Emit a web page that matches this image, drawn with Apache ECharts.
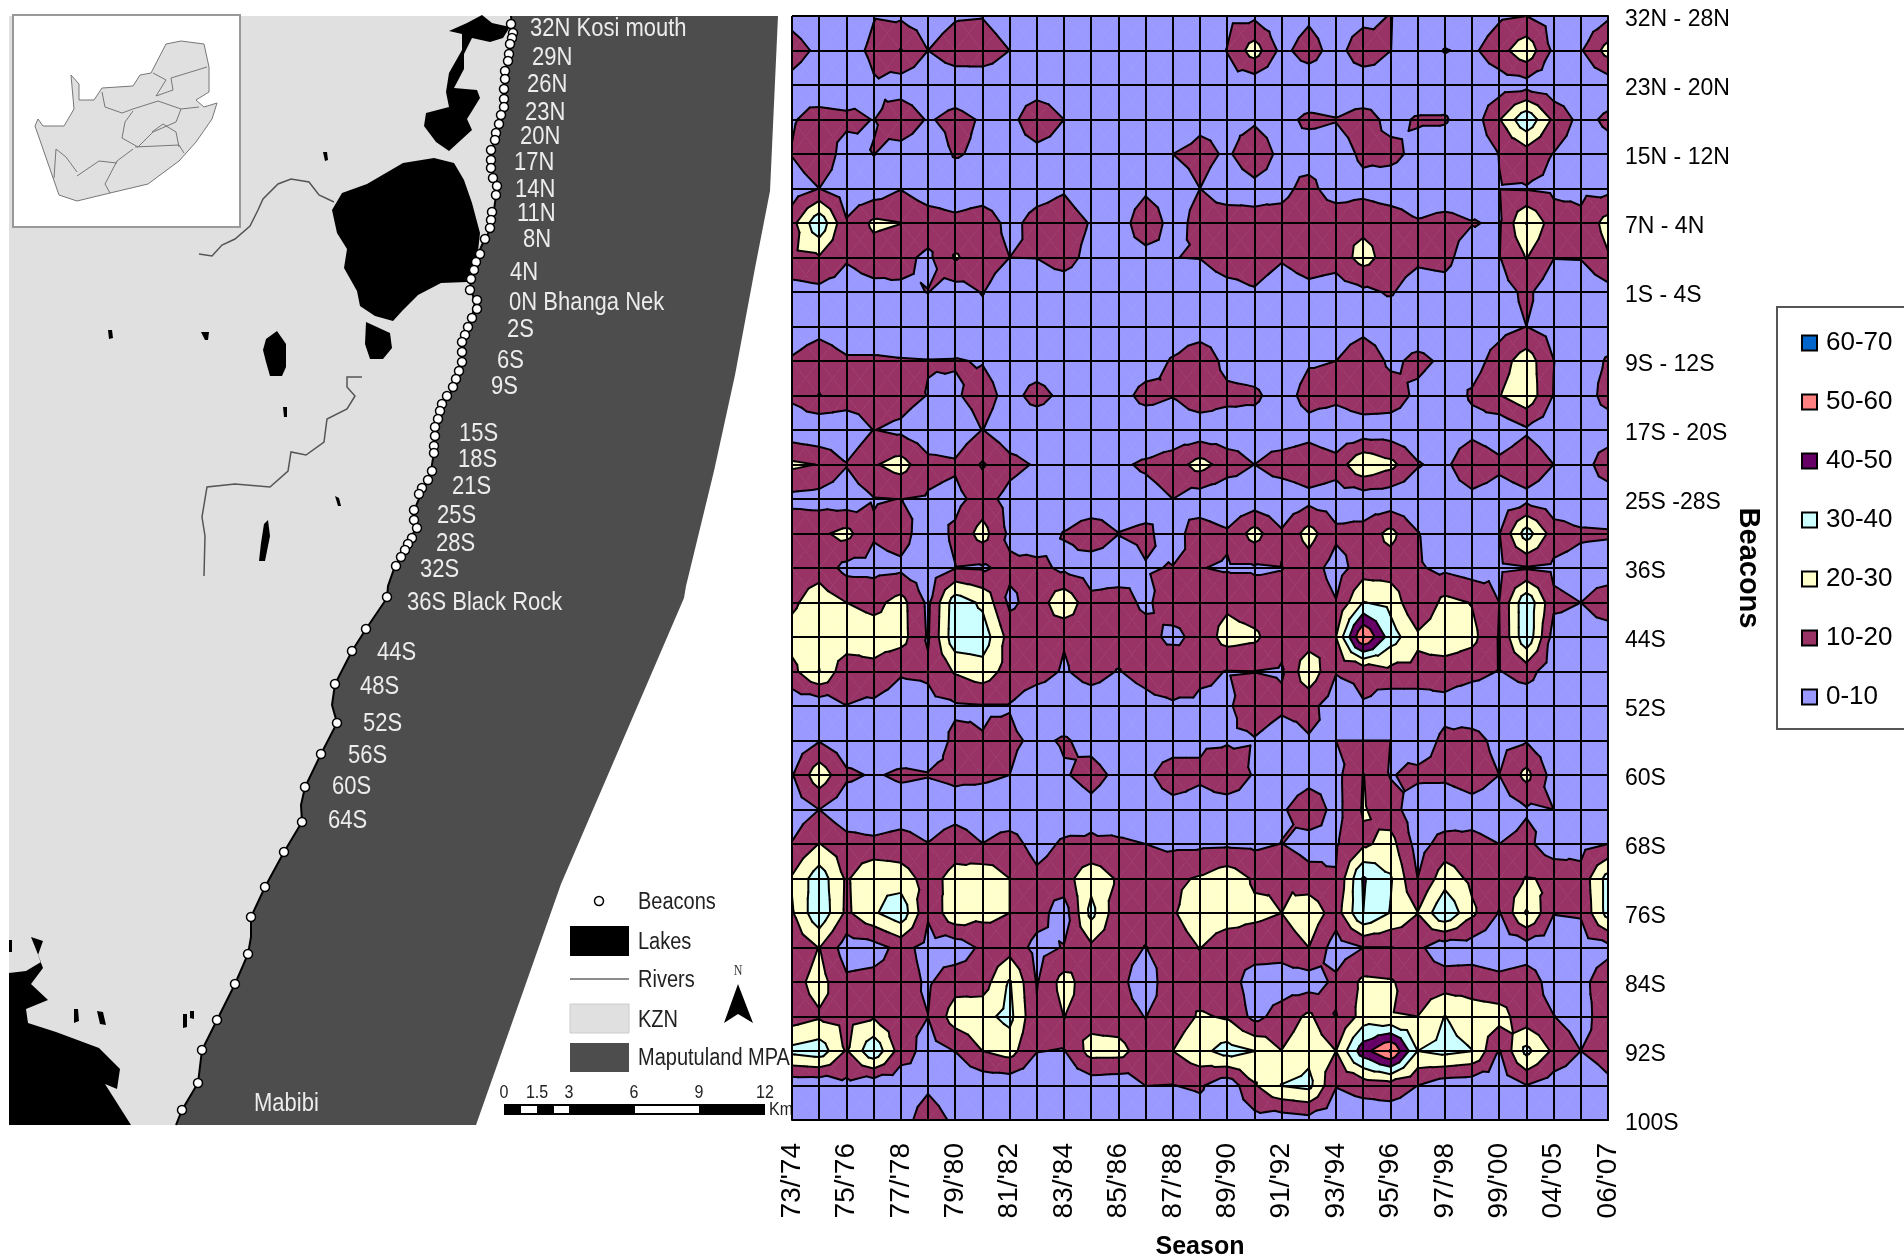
<!DOCTYPE html>
<html>
<head>
<meta charset="utf-8">
<style>html,body{margin:0;padding:0;background:#fff}#chart{width:1904px;height:1259px}</style>
<script src="https://cdn.jsdelivr.net/npm/echarts@6/dist/echarts.min.js"></script>
</head>
<body>
<div id="chart"></div>
<script>
// ---------- contour chart data ----------
const seasons = ["73/'74","74/'75","75/'76","76/'77","77/'78","78/'79","79/'80","80/'81","81/'82","82/'83","83/'84","84/'85","85/'86","86/'87","87/'88","88/'89","89/'90","90/'91","91/'92","92/'93","93/'94","94/'95","95/'96","96/'97","97/'98","98/'99","99/'00","00/'03","04/'05","05/'06","06/'07"];
const beaconTicks = ['32N - 28N','23N - 20N','15N - 12N','7N - 4N','1S - 4S','9S - 12S','17S - 20S','25S -28S','36S','44S','52S','60S','68S','76S','84S','92S','100S'];
const r00=[7,3,3,9.5,8.5,5,9,9.5,3,2,2,2,2,2,2,2,8,8,3,8,3,6,10.5,3,2,3,8.5,10,6,2,8];
const r01=[14,8,6,12,20.5,10,15,17,10,3,3,3,3,3,3,3,10.3,25,7,15,5,18,10.2,3,10.5,8,16,27,8,9,24];
const r02=[7,3,2,9,5,3,4,2,2,2,2,2,2,2,2,2,6,3,2,2,2,1,4,2,4,3,5,6,3,2,4];
const r03=[9,14,12.7,9.7,17,9,13,9,5,20.3,10,3,3,3,4,8,8,9,7,12,10.5,14.4,7,11,11,4,19.3,38,18,6.6,12];
const r04=[10.5,18,5,10.2,5.7,3,11,8,3,5,4,3,3,3,10,12.3,9,14.5,8,5,5,12,13,7,4,3,10.2,15,9.7,4,6];
const r05=[4,10,4,4,9.5,4,3,4,3,6,9,3,3,8,6,10,6,8,7.2,13.3,4,7,4,3,3,3,9.7,9.5,8,8,7];
const r06=[16.5,38,11,22,20.2,16,13,16,7,13.5,15,9.3,4.5,17,6,13.4,14.4,11.8,13.7,17,18,17,16,11,13.4,10.5,9,30.3,14.7,12,24];
const r07=[18,19,11,15,13,7.8,21,15,10,10.2,14,6.6,6,6.2,9.9,10.3,15,15,11,15,14,24,15,12,13,4,9.6,20.5,10.3,10.5,19];
const r08=[5.5,7.3,5.4,6.7,8.3,10.2,5.3,10.5,3,4,4,3,3,3,3,4,6.4,9.1,4.75,7,5,8,11,5,6,3,5.9,12,4,3,6.5];
const r09=[3,6,3,3,3,3,3,6,3,3,3,3,3,3,3,3,3,3,3,3,3,6,3,3,3,3,6,10,6,3,3];
const r10=[11.3,17,11.5,11.5,10.7,10.3,10.5,9.5,5,5,4,3,3,5,11,18.6,6,4,3,9,10,19,7.5,12.7,8,5,15,25.6,10.2,4,11.2];
const r11=[12,20.3,16,15,14,9.7,8.8,14,6.7,13.3,7.5,3,6,13.3,10.5,17,13,12,5,14,13,18,16,7.4,3,11.5,19.5,27,9.7,3,14.7];
const r12=[3.3,1,2,10.2,8,3,3,10.2,4,3,3,3,3,2,3,3,3.6,5,3,6,2,3.5,4,3,3,6,2,8.5,3,3,3];
const r13=[22,19.6,10.5,19,24,13,11.5,21,13,9,4,3,8.3,11.5,15,24,15.3,10,15,17,14,29,23,10.8,7,20.2,13,18,10,4,17];
const r14=[7,6,4,9.5,10.1,9,7,14,6.7,3,3,3,5,6,10,4,1.3,3,2.5,6.7,5,3.7,3,3,3,6,3,6.6,3,3,3];
const r15=[17.7,18,23,11,14,4,12,24,8,4,10.5,15.5,10.2,11.7,6,15,11.5,24,11.3,24,12,13.4,23,10.5,3,3,9.7,35,15,11.5,11];
const r16=[15,16,7,7,8,4,9.7,9,12,12.7,8,5,5,9.5,10.3,10.3,9,9,9.7,15,5.7,15,15,11,8,5,8,9.5,8,6,5];
const r17=[18,25.5,20,17,23.7,8,36,28,8,14,28,12.6,14,8,16,15,18,14,13,17,10.5,30.4,27,10.5,23,19.5,10,38,12,10,15];
const r18=[24,28,27,25,24,9,37,36,16,16,10.7,14,15,14,7,13.7,24,22,13,15,20,61,35,22,27,23,9.5,38,6,6,5.6];
const r19=[17,30.2,13,17,11,11.5,21,25.5,16,14,9,14,9.5,14,20.3,12,9.7,9.9,9,27,10.5,12,17,17,14.5,13,9.6,14,4,3,3];
const r20=[3,3,9.8,8,5,7.3,8.8,9.5,9.5,3.5,3,4,3,6,8,8,8.5,16,12,13,4.7,9.5,3,3,7,3,3,3,3,3,3];
const r21=[3,9.5,3,3,3,5,11.7,10.2,12,8,11,7,3,3,3,8,8.5,9.3,4.6,9.3,10,10,10,5,12,13.6,7,9.3,3,3,3];
const r22=[9.5,26.4,12,9,11.6,10.5,12,12,10,4,9,13.5,7.7,7,17,12,20.3,8.6,3,6,7,20.3,9.5,12,12,15,10,23,5.7,3,3];
const r23=[4,10,3,3,4.6,4,6,4,3,3,3,7,3,3,5,5,2,3,8.5,16.5,6.6,21,14,4,3,6,4,9,10,3,3];
const r24=[10.5,20.3,14,12.2,14,10.3,15.3,10.2,14.3,6,11.6,11.5,11.7,10,8,8,8.5,8,10.2,5.7,9,18,24,6,14,12.7,10,13,3,7,10];
const r25=[21,36,18.5,29.5,25,16,23.5,27,20,12.5,16,26.7,18.7,14,18,21,26.5,18.6,19.5,14,10.5,41,31,10,25.7,17.6,14,20.5,19,13,34];
const r26=[19,38,18,28.5,37,11,28,23,20,14,5,33,13,14,19,26,25,22,20,27,15,40,29.5,20.3,39,22,9.5,31,10.3,11,34];
const r27=[12,20.3,5,6,13,7,4,12,16,7,10.5,18,14,9.7,15,20.3,14,15,14,20,5,9.9,9.8,12,4,5,3,5,4,5,7];
const r28=[16,24,12,13,14,8.7,16,15,31,9.5,24,14,13.8,3,19,15,15,5,5,5,12,22,21,15,15,15,13,15,6,7,16];
const r29=[15,18.8,17,19,12,10.1,25,27,33,11,20.2,16,14,9.7,15,21,19,7,14,22,9.5,24,20.3,20,30.2,25,24,14,10.2,5,17];
const r30=[33,36,19,38,15,6,10.2,20,24,10.3,9.5,24,24,14,20,27,34,30.1,20.2,27,20,46,61,30,33,30.2,9.5,33,18,10,14];
const r31=[2.3,2,7.3,2.5,3,8,2,3,3,3,3,4,3,10.1,9.8,11.5,3,19,30.3,33,10.5,13.5,15,10,4,3,4,9.8,4.7,3,8];
const r32=[3,3,3,3,4.8,16.3,7.5,3,3,3,3,3,3,3,2,5,3,6.5,4.3,6.3,3,4,4,3,3,3,3,3,3,3,3];
const values=[r00,r01,r02,r03,r04,r05,r06,r07,r08,r09,r10,r11,r12,r13,r14,r15,r16,r17,r18,r19,r20,r21,r22,r23,r24,r25,r26,r27,r28,r29,r30,r31,r32];
const bandNames=['0-10','10-20','20-30','30-40','40-50','50-60','60-70'];
const bandColors=['#9999ff','#993366','#ffffcc','#ccffff','#660066','#ff8080','#0066cc'];

// ---------- map data (map units) ----------
const coast=[[511,16],[512,27],[510,50],[505,73],[504,96],[503,115],[496,134],[491,153],[491,168],[497,188],[494,210],[490,230],[482,245],[474,264],[470,287],[475,302],[472,318],[465,337],[462,360],[457,383],[444,402],[436,425],[434,452],[431,471],[421,494],[413,513],[416,528],[406,547],[395,566],[388,586],[387,598],[366,629],[352,651],[335,684],[332,705],[337,723],[321,754],[305,787],[301,805],[302,822],[284,852],[265,887],[251,917],[251,937],[248,954],[235,984],[217,1020],[202,1050],[198,1083],[182,1110],[176,1125]];
const mpaEdge=[[778,16],[770,191],[755,268],[735,375],[714,471],[686,586],[684,598],[561,884],[476,1125]];
const inlandEdge=[[9,1125],[9,16]];
const lakes=[
 [[482,15],[492,23],[510,27],[503,38],[490,42],[472,38],[464,54],[464,69],[454,88],[477,90],[480,98],[472,111],[467,119],[472,130],[449,151],[436,142],[424,126],[426,113],[449,107],[446,92],[449,73],[462,50],[462,34],[449,31],[467,23]],
 [[434,158],[454,163],[464,180],[472,203],[480,233],[477,260],[467,282],[441,283],[418,295],[403,310],[393,321],[375,316],[360,306],[357,291],[344,268],[347,249],[337,233],[332,210],[342,193],[367,184],[403,163]],
 [[366,322],[390,333],[392,348],[383,359],[370,359],[365,344]],
 [[277,331],[286,344],[286,367],[282,376],[270,376],[266,362],[263,350],[266,339]],
 [[268,520],[270,536],[265,561],[259,561],[261,543],[264,524]],
 [[9,973],[26,971],[41,962],[31,937],[43,941],[38,955],[43,968],[31,984],[48,1000],[26,1009],[28,1023],[56,1032],[99,1048],[120,1069],[117,1089],[105,1084],[131,1125],[9,1125]],
 [[108,330],[112,330],[113,338],[109,339]],[[201,332],[209,332],[208,340],[205,340]],[[323,152],[327,152],[328,160],[325,161]],
 [[283,407],[287,407],[287,417],[284,417]],[[335,496],[339,498],[341,506],[338,506]],
 [[74,1009],[78,1009],[79,1021],[74,1023]],[[97,1011],[103,1012],[106,1025],[100,1024]],[[183,1014],[187,1014],[187,1027],[183,1028]],[[190,1011],[194,1011],[194,1019],[190,1018]],[[9,940],[12,940],[12,952],[9,952]]
];
const rivers=[
 [[334,202],[319,195],[309,182],[291,179],[278,184],[263,199],[258,210],[250,226],[235,239],[222,245],[212,256],[199,254]],
 [[362,377],[347,377],[347,387],[355,396],[347,409],[327,419],[324,442],[306,455],[291,452],[288,471],[270,487],[235,484],[207,487],[202,517],[205,536],[204,576]]
];
const insetBox=[[13,15],[240,15],[240,227],[13,227]];
const saOutline=[[71,75],[79,84],[79,100],[94,100],[102,88],[133,86],[140,75],[151,73],[166,44],[181,41],[204,44],[209,67],[209,92],[196,100],[204,107],[217,103],[212,119],[196,142],[179,161],[148,184],[110,193],[77,201],[59,195],[51,172],[43,149],[35,126],[38,119],[43,126],[64,126],[74,109]];
const saBorders=[
 [[102,92],[105,107],[122,113],[133,109],[158,101],[181,109],[176,122],[153,132],[138,147],[122,138],[125,122],[133,111]],
 [[181,109],[199,107]],[[153,73],[166,80],[156,96],[173,90],[171,78],[207,67]],
 [[133,149],[117,161],[105,184],[110,193]],[[135,147],[179,145],[184,153]],
 [[77,172],[66,157],[56,149],[54,178]],[[77,176],[99,161],[117,163]],[[152,132],[163,124],[176,132],[179,147]]
];
const beacons=[[511,24],[513,33],[512,38],[510,44],[509,54],[508,61],[505,71],[505,79],[504,89],[504,99],[504,107],[501,115],[499,124],[496,133],[495,140],[491,150],[491,160],[491,168],[493,178],[497,186],[496,195],[492,212],[491,220],[490,228],[485,239],[480,254],[476,262],[474,270],[471,279],[470,290],[477,300],[477,309],[472,318],[468,327],[465,335],[462,342],[462,352],[462,362],[459,371],[456,379],[453,387],[447,396],[442,404],[440,411],[438,419],[435,427],[435,436],[434,446],[434,453],[432,471],[428,480],[422,488],[419,494],[414,510],[414,520],[417,528],[412,538],[408,544],[405,550],[401,557],[396,566],[387,597],[366,629],[352,651],[335,684],[337,723],[321,754],[305,787],[302,822],[284,852],[265,887],[251,917],[248,954],[235,984],[217,1020],[202,1050],[198,1083],[182,1110]];
const mapLabels=[['32N Kosi mouth',530,27],['29N',532,56],['26N',527,83],['23N',525,111],['20N',520,135],['17N',514,161],['14N',515,188],['11N',517,212],['8N',523,238],['4N',510,271],['0N Bhanga Nek',509,301],['2S',507,328],['6S',497,359],['9S',491,385],['15S',459,432],['18S',458,458],['21S',452,485],['25S',437,514],['28S',436,542],['32S',420,568],['36S Black Rock',407,601],['44S',377,651],['48S',360,685],['52S',363,722],['56S',348,754],['60S',332,785],['64S',328,819],['Mabibi',254,1102]];
const keyLabels=[['Beacons',638,901],['Lakes',638,941],['Rivers',638,979],['KZN',638,1019],['Maputuland MPA',638,1057]];
const keyBeacon=[[599,901]];
const keyLakes=[[570,926],[629,926],[629,956],[570,956]];
const keyRiver=[[570,979],[629,979]];
const keyKzn=[[570,1004],[629,1004],[629,1033],[570,1033]];
const keyMpa=[[570,1043],[629,1043],[629,1072],[570,1072]];
const northArrow=[[738,984],[753,1023],[738,1014],[724,1023]];
const scaleBlack=[[504,1104],[765,1104],[765,1115],[504,1115]];
const scaleWhite=[[[521,1106],[537,1106],[537,1113],[521,1113]],[[554,1106],[569,1106],[569,1113],[554,1113]],[[635,1106],[699,1106],[699,1113],[635,1113]]];
const scaleLabels=[['0',504,1091],['1.5',537,1091],['3',569,1091],['6',634,1091],['9',699,1091],['12',765,1091]];

// ---------- contour geometry ----------
const levels=[10,20,30,40,50,60];
const cells=[];
for(let r=0;r<values.length-1;r++)for(let c=0;c<seasons.length-1;c++)cells.push([c,r]);
function clipAbove(poly,level,keepAbove){
  const out=[];
  for(let i=0;i<poly.length;i++){
    const a=poly[i],b=poly[(i+1)%poly.length];
    const ina=keepAbove?a.v>=level:a.v<=level, inb=keepAbove?b.v>=level:b.v<=level;
    if(ina)out.push(a);
    if(ina!==inb){const t=(level-a.v)/(b.v-a.v);out.push({x:a.x+(b.x-a.x)*t,y:a.y+(b.y-a.y)*t,v:level});}
  }
  return out;
}
function cellTriangles(api){
  const c=api.value(0),r=api.value(1);
  const mk=(cc,rr)=>{const p=api.coord([cc,rr]);return {x:p[0],y:p[1],v:values[rr][cc]};};
  const a=mk(c,r),b=mk(c+1,r),d=mk(c+1,r+1),e=mk(c,r+1);
  const m={x:(a.x+d.x)/2,y:(a.y+d.y)/2,v:(a.v+b.v+d.v+e.v)/4};
  return [[a,b,m],[b,d,m],[d,e,m],[e,a,m]];
}
function bandRender(k){
  const lo=k*10,hi=(k+1)*10,col=bandColors[k];
  return function(params,api){
    const children=[];
    cellTriangles(api).forEach(t=>{
      let p=clipAbove(t,lo,true);
      if(p.length)p=clipAbove(p,hi,false);
      if(p.length>2)children.push({type:'polygon',shape:{points:p.map(q=>[q.x,q.y])},style:{fill:col,stroke:col,lineWidth:0.6}});
    });
    return children.length?{type:'group',children}:null;
  };
}
function lineRender(params,api){
  const children=[];
  cellTriangles(api).forEach(t=>{
    levels.forEach(L=>{
      const pts=[];
      for(let i=0;i<3;i++){
        const a=t[i],b=t[(i+1)%3];
        if((a.v<L)!==(b.v<L)){const f=(L-a.v)/(b.v-a.v);pts.push([a.x+(b.x-a.x)*f,a.y+(b.y-a.y)*f]);}
      }
      if(pts.length===2)children.push({type:'line',shape:{x1:pts[0][0],y1:pts[0][1],x2:pts[1][0],y2:pts[1][1]},style:{stroke:'#000',lineWidth:2,lineCap:'round'}});
    });
  });
  return children.length?{type:'group',children}:null;
}

// ---------- map series helpers ----------
function shapes(name,rings,kind,style,z){
  return {name,type:'custom',coordinateSystem:'cartesian2d',xAxisIndex:1,yAxisIndex:1,z:z||1,silent:true,clip:false,
    data:rings.map((r,i)=>[i,0]),
    renderItem:(p,api)=>({type:kind,shape:{points:rings[api.value(0)].map(q=>api.coord(q))},style})};
}
function texts(name,list,font,fill,sy,align){
  return {name,type:'custom',coordinateSystem:'cartesian2d',xAxisIndex:1,yAxisIndex:1,z:1,silent:true,clip:false,
    data:list.map((r,i)=>[i,0]),
    renderItem:(p,api)=>{const t=list[api.value(0)],q=api.coord([t[1],t[2]]);
      return {type:'text',x:q[0],y:q[1]+2,scaleY:sy,style:{text:t[0],x:0,y:0,font,fill,textAlign:align,textVerticalAlign:'middle'}};}};
}
const F='"Liberation Sans", Arial, sans-serif';
const series=[
  shapes('land',[[...coast,...inlandEdge]],'polygon',{fill:'#e0e0e0'}),
  shapes('mpa',[[...coast,...mpaEdge.slice().reverse()]],'polygon',{fill:'#4d4d4d'}),
  shapes('inset',[insetBox],'polygon',{fill:'#fff',stroke:'#999',lineWidth:2}),
  shapes('sa',[saOutline],'polygon',{fill:'#e0e0e0',stroke:'#777',lineWidth:1}),
  shapes('saBorders',saBorders,'polyline',{fill:'none',stroke:'#777',lineWidth:1}),
  shapes('lakes',lakes,'polygon',{fill:'#000'}),
  shapes('rivers',rivers,'polyline',{fill:'none',stroke:'#555',lineWidth:1.5}),
  shapes('coast',[coast],'polyline',{fill:'none',stroke:'#000',lineWidth:2}),
  {name:'beacons',type:'scatter',xAxisIndex:1,yAxisIndex:1,z:1,silent:true,symbolSize:9,data:beacons,itemStyle:{color:'#fff',borderColor:'#000',borderWidth:1.5,opacity:1}},
  {name:'keyBeacon',type:'scatter',xAxisIndex:1,yAxisIndex:1,z:1,silent:true,symbolSize:9,data:keyBeacon,itemStyle:{color:'#fff',borderColor:'#000',borderWidth:1.5,opacity:1}},
  texts('mapLabels',mapLabels,'22px '+F,'#ececec',1.15,'left'),
  shapes('keyLakes',[keyLakes],'polygon',{fill:'#000'}),
  shapes('keyRiver',[keyRiver],'polyline',{fill:'none',stroke:'#666',lineWidth:1.5}),
  shapes('keyKzn',[keyKzn],'polygon',{fill:'#e0e0e0',stroke:'#ccc',lineWidth:1}),
  shapes('keyMpa',[keyMpa],'polygon',{fill:'#4d4d4d'}),
  texts('keyLabels',keyLabels,'20px '+F,'#222',1.15,'left'),
  shapes('north',[northArrow],'polygon',{fill:'#000'}),
  texts('northN',[['N',738,969]],'12px "Liberation Serif", serif','#333',1.2,'center'),
  shapes('scaleBlack',[scaleBlack],'polygon',{fill:'#000'}),
  shapes('scaleWhite',scaleWhite,'polygon',{fill:'#fff'}),
  texts('scaleLabels',scaleLabels,'16px '+F,'#222',1.2,'center'),
  texts('km',[['Km',769,1108]],'16px '+F,'#222',1.2,'left')
];
bandNames.forEach((n,k)=>series.push({name:n,type:'custom',coordinateSystem:'cartesian2d',xAxisIndex:0,yAxisIndex:0,z:2,silent:true,
  itemStyle:{color:bandColors[k]},data:cells,encode:{x:0,y:1},renderItem:bandRender(k)}));
series.push({name:'contours',type:'custom',coordinateSystem:'cartesian2d',xAxisIndex:0,yAxisIndex:0,z:3,silent:true,data:cells,encode:{x:0,y:1},renderItem:lineRender});

const rowNames=values.map((_,i)=>i%2===0?beaconTicks[i/2]:'');
const blackAxis={lineStyle:{color:'#000',width:2}};
const option={
  backgroundColor:'#fff',animation:false,
  graphic:[{type:'rect',z:0,shape:{x:1777,y:307,width:200,height:422},style:{fill:'#fff',stroke:'#555',lineWidth:2}}],
  legend:{left:1796,top:323,orient:'vertical',selectedMode:false,icon:'rect',itemWidth:15,itemHeight:15,itemGap:29,
    itemStyle:{borderColor:'#000',borderWidth:2},
    textStyle:{fontFamily:F,fontSize:26,color:'#000',lineHeight:30,padding:[0,0,0,4]},
    data:bandNames.slice().reverse()},
  grid:[{left:792,top:16,width:816,height:1104,outerBoundsMode:'none'},{left:0,top:0,width:800,height:1140,outerBoundsMode:'none'}],
  xAxis:[
    {type:'category',gridIndex:0,data:seasons,boundaryGap:false,z:5,name:'Season',nameLocation:'middle',nameGap:115,
     nameTextStyle:{fontFamily:F,fontWeight:'bold',fontSize:25,color:'#000'},
     axisLine:{...blackAxis},axisTick:{length:15,interval:0,lineStyle:{color:'#000',width:1.5}},
     splitLine:{show:true,interval:0,...blackAxis},
     axisLabel:{interval:1,rotate:90,margin:23,fontFamily:F,fontSize:28,color:'#000'}},
    {type:'value',gridIndex:1,min:0,max:800,show:false,splitLine:{show:false}}
  ],
  yAxis:[
    {type:'category',gridIndex:0,data:rowNames,boundaryGap:false,inverse:true,position:'right',z:5,name:'Beacons',nameLocation:'middle',nameRotate:-90,nameGap:124,
     nameTextStyle:{fontFamily:F,fontWeight:'bold',fontSize:29,color:'#000'},
     axisLine:{...blackAxis},axisTick:{length:13,interval:0,lineStyle:{color:'#000',width:1.5}},
     splitLine:{show:true,interval:0,...blackAxis},
     axisLabel:{interval:1,margin:17,formatter:v=>v?'{a|'+v+'}':'',rich:{a:{fontFamily:F,fontSize:23,color:'#000',padding:[7,0,0,0]}}}},
    {type:'value',gridIndex:1,min:0,max:1140,inverse:true,show:false,splitLine:{show:false}}
  ],
  series
};
echarts.init(document.getElementById('chart'),null,{renderer:'canvas'}).setOption(option);
</script>
</body>
</html>
